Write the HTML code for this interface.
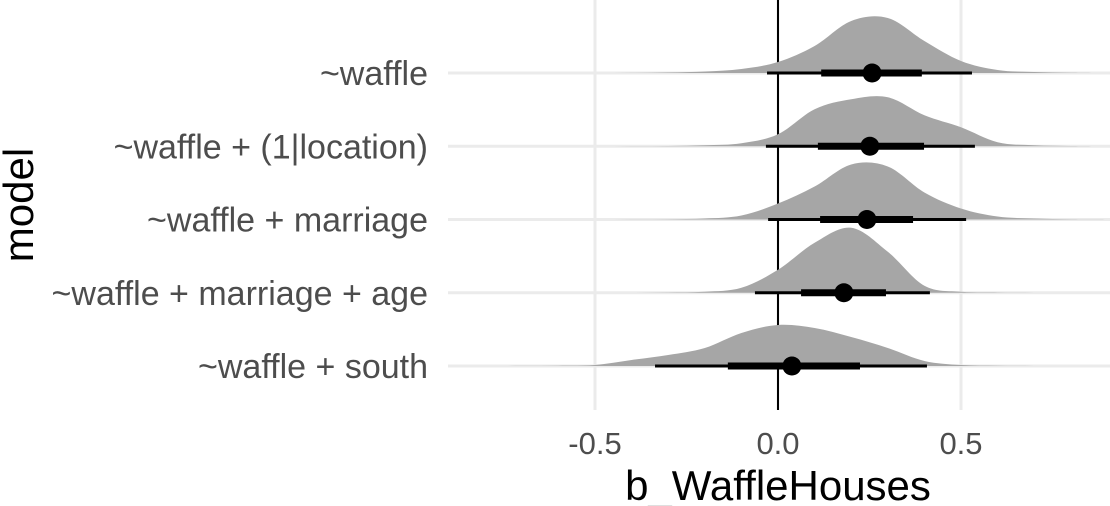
<!DOCTYPE html>
<html><head><meta charset="utf-8"><style>
html,body{margin:0;padding:0;background:#fff;}
svg{display:block;font-family:"Liberation Sans",sans-serif;}
</style></head><body>
<svg id="chart" width="1110" height="506" viewBox="0 0 1110 506"></svg>
<script>
const models = ["~waffle","~waffle + (1|location)","~waffle + marriage","~waffle + marriage + age","~waffle + south"];
const medians = [0.257,0.251,0.243,0.180,0.038];
const inner_lo = [0.118,0.109,0.115,0.063,-0.137];
const inner_hi = [0.393,0.399,0.369,0.295,0.224];
const outer_lo = [-0.030,-0.033,-0.027,-0.063,-0.336];
const outer_hi = [0.530,0.538,0.514,0.415,0.407];
const densityX = [-0.9,-0.8,-0.7,-0.6,-0.5,-0.4,-0.3,-0.2,-0.1,0,0.1,0.2,0.3,0.4,0.5,0.6,0.7,0.8,0.9];
const dens0 = [0,0,0,0,0,0.1,0.5,1.5,4,11,27,52,55,32,12,3,1,0.3,0];
const dens1 = [0,0,0,0,0,0.1,0.3,1,3,12,37,47,49,31,19,4,1,0.3,0];
const dens2 = [0,0,0,0,0,0.1,0.3,1,4,16,33,55,53,27,11,3,1,0.2,0];
const dens3 = [0,0,0,0,0,0,0.3,1,5,23,50,65,41,7,1,0.3,0,0,0];
const dens4 = [0,0,0.1,0.3,1,6,11,18,33,41,38,29,18,5,1,0.3,0,0,0];
const densities = [dens0,dens1,dens2,dens3,dens4];
const xTicks = [-0.5,0,0.5];
const xTickLabels = ["-0.5","0.0","0.5"];

const svg = document.getElementById('chart');
const NS = "http://www.w3.org/2000/svg";
const X = v => 778 + v*366;
const rowY = i => 73 + i*73.25;
function mk(tag, attrs){const e=document.createElementNS(NS,tag);for(const k in attrs)e.setAttribute(k,attrs[k]);svg.appendChild(e);return e;}

xTicks.forEach((t,i)=>{
  const g=mk('line',{x1:X(t),x2:X(t),y1:0,y2:410,stroke:'#ebebeb','stroke-width':3});
  
  
});
models.forEach((m,i)=>{
  const g=mk('line',{x1:448,x2:1110,y1:rowY(i),y2:rowY(i),stroke:'#ebebeb','stroke-width':3});
  
  
});
const z=mk('line',{x1:X(0),x2:X(0),y1:0,y2:410,stroke:'#000','stroke-width':2});



densities.forEach((d,i)=>{
  const y0=rowY(i);
  const pts=densityX.map((x,j)=>[X(x),y0-d[j]]);
  let p=`M${pts[0][0]},${y0} L${pts[0][0]},${pts[0][1]}`;
  for(let j=0;j<pts.length-1;j++){
    const p0=pts[Math.max(0,j-1)],p1=pts[j],p2=pts[j+1],p3=pts[Math.min(pts.length-1,j+2)];
    const c1=[p1[0]+(p2[0]-p0[0])/6,p1[1]+(p2[1]-p0[1])/6];
    const c2=[p2[0]-(p3[0]-p1[0])/6,p2[1]-(p3[1]-p1[1])/6];
    p+=` C${c1[0]},${Math.min(c1[1],y0)} ${c2[0]},${Math.min(c2[1],y0)} ${p2[0]},${p2[1]}`;
  }
  p+=` L${pts[pts.length-1][0]},${y0} Z`;
  const e=mk('path',{d:p,fill:'#a6a6a6'});
  
  
});

models.forEach((m,i)=>{
  const y=rowY(i);
  const a=mk('line',{x1:X(outer_lo[i]),x2:X(outer_hi[i]),y1:y,y2:y,stroke:'#000','stroke-width':3});
  
  
  const b=mk('line',{x1:X(inner_lo[i]),x2:X(inner_hi[i]),y1:y,y2:y,stroke:'#000','stroke-width':7});
  
  
  const c=mk('circle',{cx:X(medians[i]),cy:y,r:9.5,fill:'#000'});
  
  
  const t=mk('text',{x:428,y:y+12,'text-anchor':'end','font-size':34,fill:'#4d4d4d'});
  t.textContent=m;
  
  
});

xTicks.forEach((v,i)=>{
  const t=mk('text',{x:X(v),y:454,'text-anchor':'middle','font-size':31,fill:'#4d4d4d'});
  t.textContent=xTickLabels[i];
  
  
});
const xt=mk('text',{x:X(0),y:500,'text-anchor':'middle','font-size':42,fill:'#000'});
xt.textContent='b_WaffleHouses';


const yt=mk('text',{x:0,y:0,'text-anchor':'middle','font-size':42,fill:'#000',transform:'translate(33,205) rotate(-90)'});
yt.textContent='model';


</script>
</body></html>
